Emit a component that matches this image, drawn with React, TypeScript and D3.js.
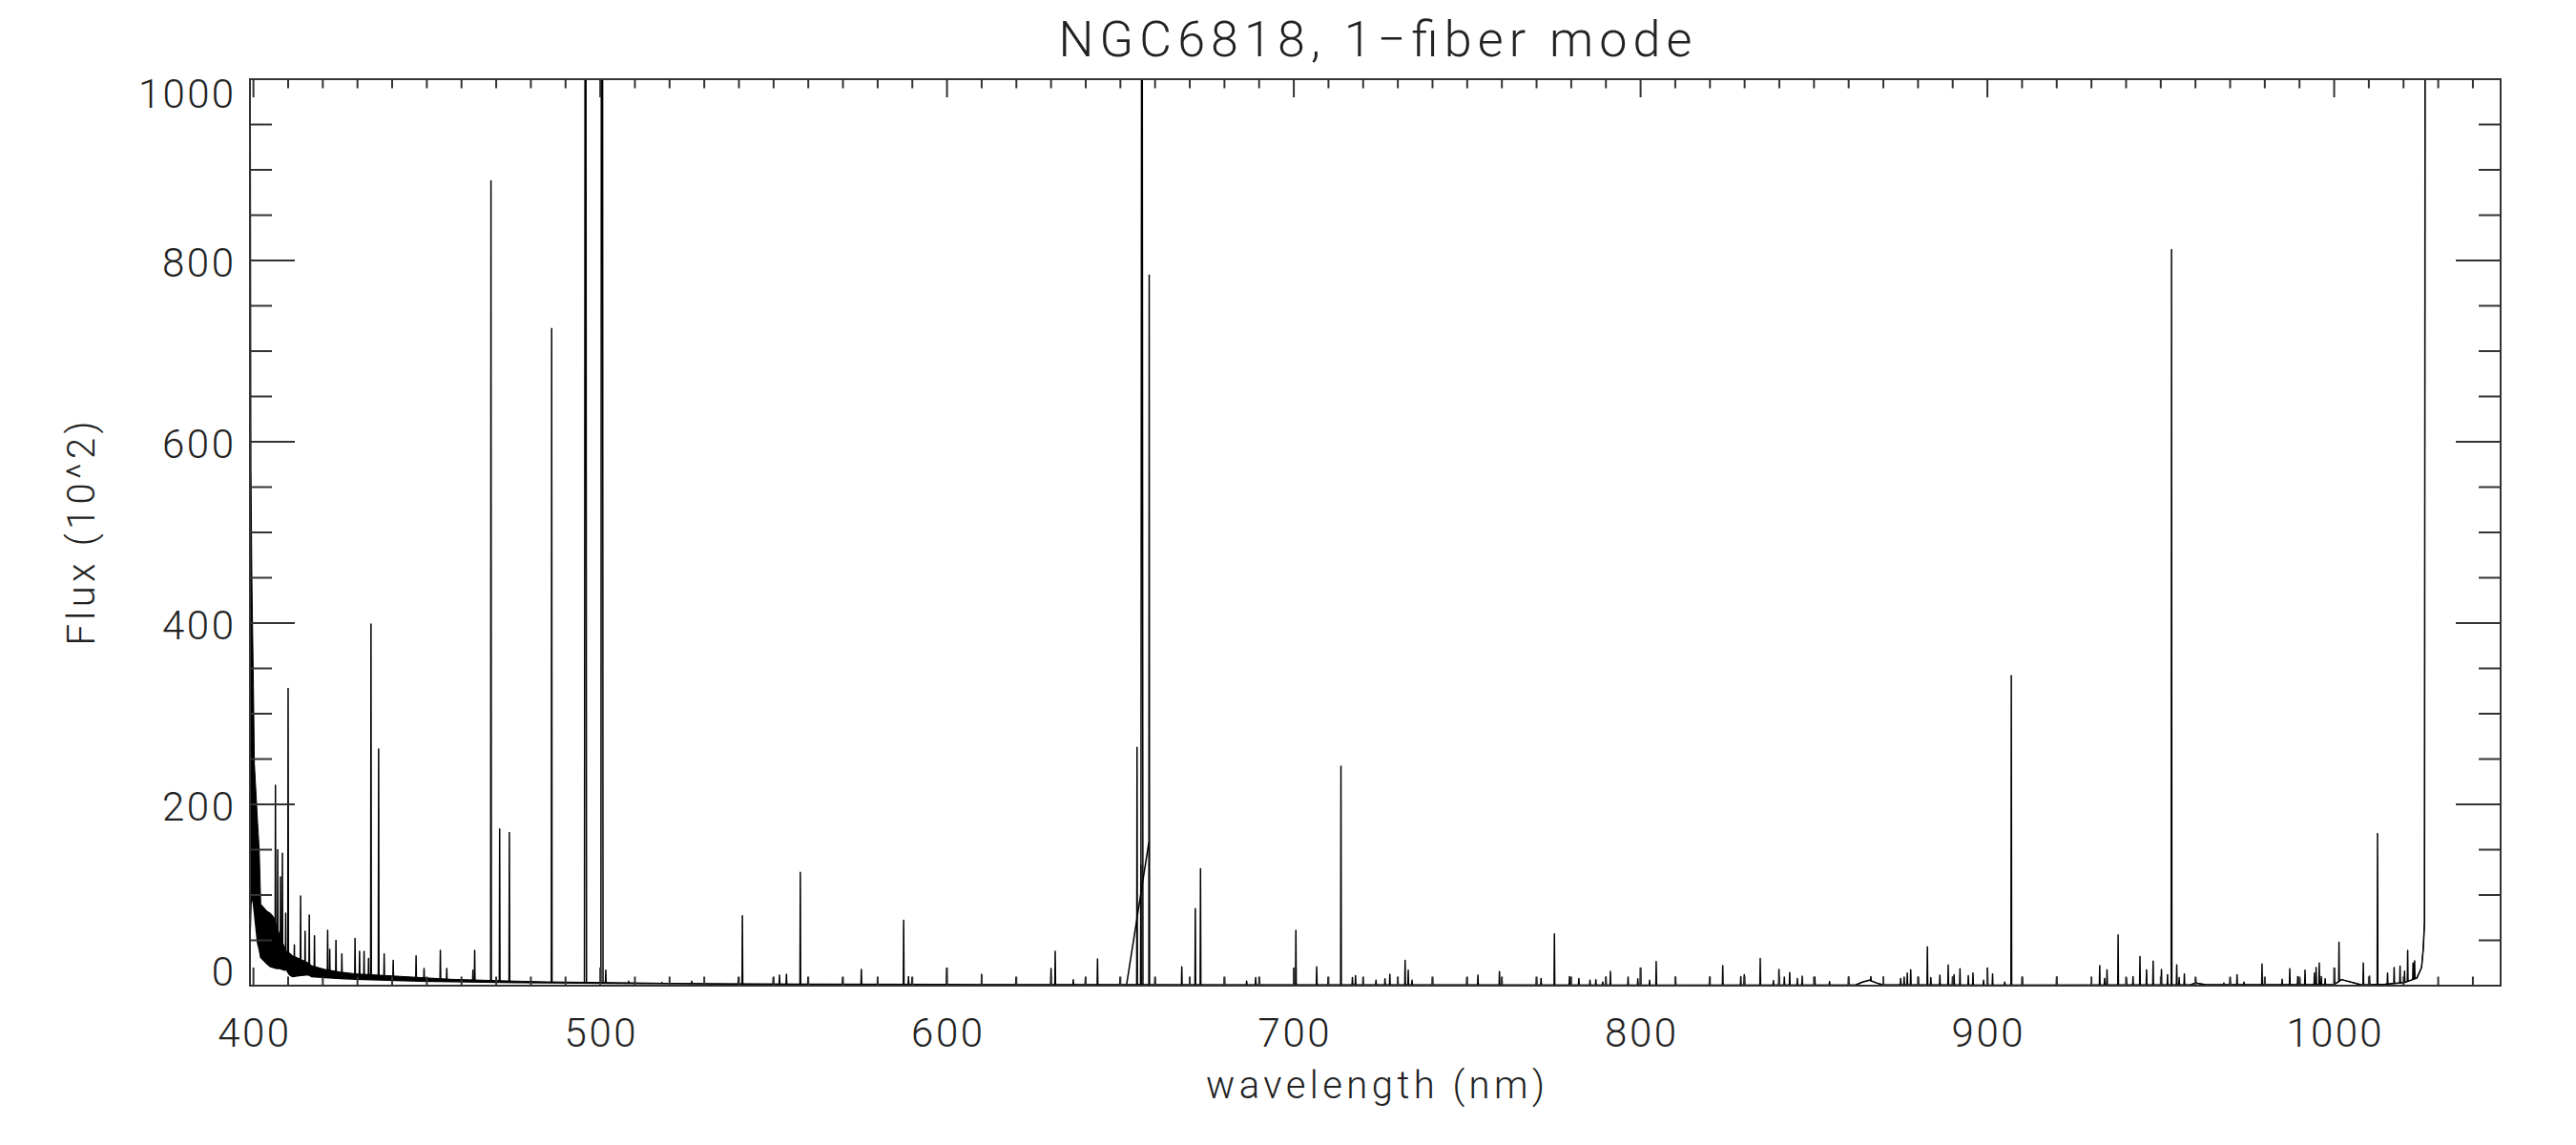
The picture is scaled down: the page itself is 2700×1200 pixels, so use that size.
import * as d3 from 'd3';
import React from 'react';

// flux values are in units of 10^2, wavelengths in nm
const title = 'NGC6818, 1\u2212fiber mode';
const xTitle = 'wavelength (nm)';
const yTitle = 'Flux (10^2)';

const xTickLabels = [400, 500, 600, 700, 800, 900, 1000];
const yTickLabels = [0, 200, 400, 600, 800, 1000];

// [wavelength, lower envelope, upper envelope] of the continuum / noise band
const continuum: [number, number, number][] = [
    [399.08, 60, 1100], [399.3, 90, 570], [399.55, 100, 450], [400.0, 90, 330],
    [400.28, 80, 245], [401.2, 47, 180], [401.67, 40, 150], [402.1, 31, 90],
    [403.95, 24, 82], [404.86, 21, 80], [405.8, 20, 76], [406.7, 19, 66],
    [407.6, 19, 55], [409.0, 17, 42], [409.45, 18, 38], [410.4, 12, 36],
    [411.3, 10, 33], [413.1, 11, 30], [415.9, 12, 25], [416.8, 10, 22],
    [420.5, 9, 18], [425.05, 8, 15], [429.6, 7, 13], [434.2, 6.5, 12],
    [438.8, 6, 11], [448.0, 5, 9], [457.1, 4.6, 7], [466.3, 4, 6],
    [475.5, 3.5, 5], [484.6, 3.2, 4.2], [493.8, 3, 3.8], [512.15, 2.5, 3],
    [530.5, 2, 2], [560, 1.5, 1.5], [600, 1.2, 1.2], [650, 1, 1],
    [700, 0.8, 0.8], [800, 0.6, 0.6], [862, 0.8, 0.8], [864, 4, 4],
    [866, 6, 6], [868, 3, 3], [870, 0.8, 0.8], [900, 0.6, 0.6],
    [958.5, 0.8, 0.8], [960, 3, 3], [963, 1, 1], [999.9, 1, 1],
    [1001.5, 5, 5], [1002.1, 6.7, 6.7], [1008, 0.7, 0.7], [1014.7, 1.6, 1.6],
    [1020.2, 3.3, 3.3], [1023.85, 8.5, 8.5], [1025.2, 20, 20], [1025.7, 41, 41],
    [1026.05, 70, 70], [1026.3, 1500, 1500],
];

// [wavelength, peak flux] of the emission lines
const emissionLines: [number, number][] = [
    [406.35, 221], [407.0, 150], [407.8, 120], [408.35, 146], [409.3, 80],
    [410.0, 328], [411.8, 45], [413.6, 99], [414.9, 60], [416.1, 78],
    [417.6, 55], [421.4, 61], [422.0, 40], [423.8, 50], [425.5, 35],
    [429.3, 52], [430.6, 38], [431.9, 38], [433.2, 30], [433.9, 399],
    [436.1, 261], [437.7, 35], [440.3, 28], [446.9, 33], [449.2, 19],
    [453.9, 39], [455.75, 19], [463.3, 17], [463.8, 39], [468.5, 888],
    [471.0, 173], [473.8, 169], [486.0, 725], [495.75, 1900], [500.5, 2600],
    [501.6, 17], [508.2, 5], [517.8, 3.5], [526.4, 5],
    [539.85, 9], [541.0, 77], [549.9, 9], [551.7, 11.5], [553.7, 12.5],
    [557.7, 125], [559.9, 9], [569.9, 9], [575.3, 18], [580.0, 9],
    [587.5, 72], [588.9, 10], [589.9, 9], [599.9, 19], [610.0, 12.5],
    [619.9, 9], [630.0, 19], [631.2, 38], [636.4, 6.5], [639.9, 9],
    [643.4, 29.5], [649.9, 9], [654.8, 263], [655.9, 133], [656.2, 1600],
    [658.3, 784], [660.0, 9], [667.7, 20.7], [670.0, 9], [671.6, 85],
    [673.1, 129], [680.0, 9], [686.4, 5], [689.0, 9], [690.1, 9],
    [700.0, 18], [700.6, 61], [706.6, 20.7], [709.9, 9], [713.6, 242],
    [716.9, 9], [717.8, 11], [720.0, 9], [723.7, 6], [726.3, 7.6],
    [727.7, 12.5], [730.0, 9], [732.1, 28], [733.0, 17], [734.1, 6],
    [740.0, 9], [749.9, 9], [753.1, 11.6], [759.3, 15.5], [760.0, 9],
    [770.0, 9], [771.3, 8], [775.15, 57], [779.5, 10], [782.2, 8], [785.4, 6],
    [787.1, 6.7], [789.1, 4], [790.0, 9.5], [791.3, 15.8], [796.4, 9.5],
    [799.2, 7.5], [800.0, 19.6], [802.6, 6], [804.5, 26.7], [810.1, 9.5],
    [819.9, 9.5], [823.7, 22], [828.9, 10], [829.9, 12], [834.5, 30],
    [838.3, 5.6], [839.9, 18], [841.45, 9.5], [843.0, 14.4], [845.2, 8],
    [846.6, 10.5], [850.25, 9.5], [854.5, 4.5], [860.0, 9.5], [866.4, 10],
    [870.0, 9.5], [875.0, 8], [876.0, 9.5], [876.9, 14], [877.9, 17.5],
    [880.1, 9.5], [882.7, 43], [883.7, 9], [886.3, 11.5], [888.7, 23],
    [890.0, 9.5], [890.4, 12], [892.1, 18.6], [894.5, 11], [895.85, 14],
    [898.9, 6], [900.05, 19.6], [901.5, 13], [905.0, 4], [906.9, 342],
    [910.1, 9.5], [920.0, 9.5],
    [932.4, 22], [933.8, 8], [934.5, 17.5], [937.7, 56], [940.1, 8],
    [942.0, 10], [944.0, 32], [945.9, 17.5], [947.8, 27], [950.2, 18],
    [951.95, 12], [953.1, 812], [954.6, 23], [955.3, 9], [956.8, 13],
    [960.1, 8], [968.2, 3], [970.0, 8], [972.0, 12], [974.0, 4],
    [979.2, 24], [980.0, 8], [985.0, 7], [987.2, 18.6], [989.5, 10],
    [990.1, 8], [991.6, 17], [994.3, 14], [994.8, 20], [995.7, 25],
    [996.3, 10], [997.4, 7.6], [1000.1, 19.3], [1001.4, 48], [1008.4, 25],
    [1010.2, 10.5], [1012.5, 168], [1015.4, 14], [1017.3, 20], [1019.0, 21.7],
    [1020.3, 16], [1021.2, 39], [1022.75, 25], [1023.2, 27.4],
];

// straight segment where the two orders overlap under H-alpha
const overlapSegment: [number, number][] = [[651.8, 1.4], [658.2, 158]];

const width = 2700;
const height = 1200;
const margin = { left: 262, right: 79, top: 83, bottom: 167 };
const plotRight = width - margin.right;
const plotBottom = height - margin.bottom;

const font = 'Roboto, "Open Sans", sans-serif';
const ink = '#222';

export default function App() {
    const x = d3.scaleLinear().domain([399, 1048]).range([margin.left, plotRight]);
    const y = d3.scaleLinear().domain([0, 1000]).range([plotBottom, margin.top]);

    const base = d3.scaleLinear()
        .domain(continuum.map(d => d[0]))
        .range(continuum.map(d => d[1]))
        .clamp(true);

    const line = d3.line<[number, number]>()
        .x(d => x(d[0]))
        .y(d => y(d[1]));

    const band = d3.area<[number, number, number]>()
        .x(d => x(d[0]))
        .y0(d => y(d[1]))
        .y1(d => y(d[2]));

    const contLine = line(continuum.map(d => [d[0], d[1]] as [number, number]));
    const contTop = line(continuum.map(d => [d[0], d[2]] as [number, number]));

    const spikes = emissionLines.map(([w, peak]) => {
        const hw = peak >= 1000 ? 0.3 : 0.1;
        return line([[w - hw, base(w - hw)], [w, peak], [w + hw, base(w + hw)]]);
    });

    const xMinor = d3.range(400, 1048, 10).filter(v => !xTickLabels.includes(v));
    const yMinor = d3.range(0, 1001, 50).filter(v => !yTickLabels.includes(v));

    const plotH = plotBottom - margin.top;
    const plotW = plotRight - margin.left;

    return (
        <svg width={width} height={height} style={{ position: 'absolute', left: 0, top: 0, background: '#fff' }}>
            <defs>
                <clipPath id="plot-clip">
                    <rect x={margin.left} y={margin.top} width={plotW} height={plotH} />
                </clipPath>
            </defs>

            <g clipPath="url(#plot-clip)" fill="none" stroke="#000" strokeWidth={1.5} strokeLinejoin="round">
                <path d={band(continuum.filter(d => d[0] <= 531)) || ''} fill="#000" stroke="none" />
                <path d={contLine || ''} />
                <path d={contTop || ''} strokeWidth={1} />
                {spikes.map((d, i) => <path key={i} d={d || ''} />)}
                <path d={line(overlapSegment) || ''} />
            </g>

            {/* frame and ticks */}
            <g stroke="#333" strokeWidth={2} fill="none">
                <rect x={margin.left} y={margin.top} width={plotW} height={plotH} />
                {xTickLabels.map(v => (
                    <g key={'xM' + v}>
                        <line x1={x(v)} x2={x(v)} y1={plotBottom} y2={plotBottom - 19} />
                        <line x1={x(v)} x2={x(v)} y1={margin.top} y2={margin.top + 19} />
                    </g>
                ))}
                {xMinor.map(v => (
                    <g key={'xm' + v}>
                        <line x1={x(v)} x2={x(v)} y1={plotBottom} y2={plotBottom - 9.5} />
                        <line x1={x(v)} x2={x(v)} y1={margin.top} y2={margin.top + 9.5} />
                    </g>
                ))}
                {yTickLabels.map(v => (
                    <g key={'yM' + v}>
                        <line x1={margin.left} x2={margin.left + 47} y1={y(v)} y2={y(v)} />
                        <line x1={plotRight} x2={plotRight - 47} y1={y(v)} y2={y(v)} />
                    </g>
                ))}
                {yMinor.map(v => (
                    <g key={'ym' + v}>
                        <line x1={margin.left} x2={margin.left + 23} y1={y(v)} y2={y(v)} />
                        <line x1={plotRight} x2={plotRight - 23} y1={y(v)} y2={y(v)} />
                    </g>
                ))}
            </g>

            <g fontFamily={font} fontWeight={300} fill={ink}>
                <text x={(margin.left + plotRight) / 2} y={59} fontSize={52} textAnchor="middle"
                      textLength={664} lengthAdjust="spacing">{title}</text>

                {xTickLabels.map(v => (
                    <text key={'xl' + v} x={x(v)} y={1097} fontSize={42} textAnchor="middle"
                          textLength={String(v).length * 25} lengthAdjust="spacing">{v}</text>
                ))}

                {yTickLabels.map(v => (
                    <text key={'yl' + v} x={245}
                          y={Math.max(margin.top + 30, Math.min(plotBottom, y(v) + 17))}
                          fontSize={42} textAnchor="end"
                          textLength={String(v).length * 25} lengthAdjust="spacing">{v}</text>
                ))}

                <text x={(margin.left + plotRight) / 2} y={1151} fontSize={40} textAnchor="middle"
                      textLength={355} lengthAdjust="spacing">{xTitle}</text>

                <text transform={`translate(99, 559) rotate(-90)`} fontSize={40} textAnchor="middle"
                      textLength={235} lengthAdjust="spacing">{yTitle}</text>
            </g>
        </svg>
    );
}
